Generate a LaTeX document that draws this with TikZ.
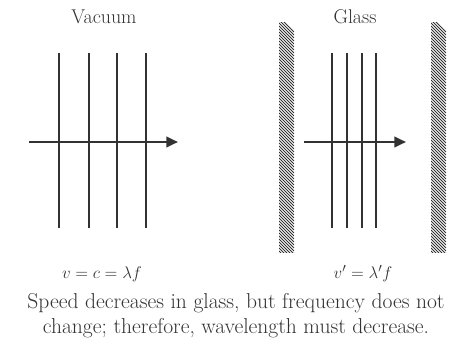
\documentclass[tikz,border=0pt]{standalone}
\usepackage{amsmath}
\usetikzlibrary{positioning, arrows.meta}
\definecolor{InkGray}{RGB}{50, 50, 50}

\begin{document}
\begin{tikzpicture}[x=0.03cm, y=-0.03cm,
      wave/.style={draw=InkGray, line width=0.9pt},
      ray/.style={draw=InkGray, line width=2pt, -{Triangle[length=10pt, width=9pt]}},
      hatch/.style={draw=InkGray, line width=0.8pt},
      title/.style={font=\fontsize{17}{20}\selectfont, text=InkGray},
      formula/.style={font=\fontsize{15}{18}\selectfont, text=InkGray},
      caption/.style={font=\fontsize{18.4}{21.5}\selectfont, text=InkGray, align=center}
    ]
      \useasboundingbox (0,0) rectangle (466,343);

      % vacuum side
      \node[title] (vac) at (104,17) {Vacuum};
      \foreach \x in {59,89,117,146} {
        \draw[wave] (\x,53) -- (\x,228);
      }
      \coordinate (vs) at (29,142);
      \coordinate (ve) at (178,142);
      \draw[ray] (vs) -- (ve);

      % glass side
      \node[title] (gls) at (355,17) {Glass};
      \foreach \wx in {279,431} {
        \begin{scope}
          \clip (\wx,23) rectangle (\wx+15,253);
          \foreach \k in {-6,-3,...,240} {
            \draw[hatch] (\wx,23+\k) -- (\wx+15,38+\k);
          }
        \end{scope}
      }
      \foreach \x in {332,347,362,376} {
        \draw[wave] (\x,53) -- (\x,228);
      }
      \coordinate (gs) at (304,142);
      \coordinate (ge) at (406,142);
      \draw[ray] (gs) -- (ge);

      \node[formula] (fv) at (102,274) {$v = c = \lambda f$};
      \node[formula] (fg) at (363,274) {$v' = \lambda' f$};
      \node[caption] (cap) at (236,316) {Speed decreases in glass, but frequency does not\\change; therefore, wavelength must decrease.};
    \end{tikzpicture}
\end{document}
